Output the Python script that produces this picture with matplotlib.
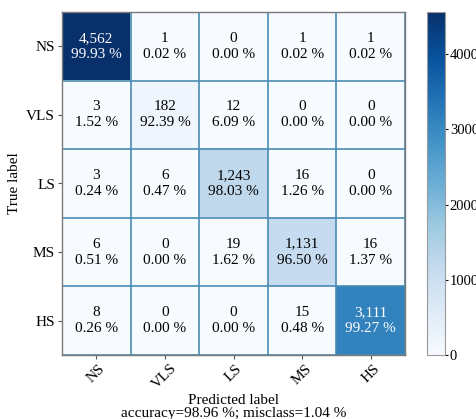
import matplotlib
matplotlib.use("Agg")

import matplotlib.pyplot as plt
import numpy as np

# --- confusion matrix data ---
classes = ["NS", "VLS", "LS", "MS", "HS"]
counts = np.array([
    [4562, 1, 0, 1, 1],
    [3, 182, 12, 0, 0],
    [3, 6, 1243, 16, 0],
    [6, 0, 19, 1131, 16],
    [8, 0, 0, 15, 3111],
])
row_pct = [
    [99.93, 0.02, 0.00, 0.02, 0.02],
    [1.52, 92.39, 6.09, 0.00, 0.00],
    [0.24, 0.47, 98.03, 1.26, 0.00],
    [0.51, 0.00, 1.62, 96.50, 1.37],
    [0.26, 0.00, 0.00, 0.48, 99.27],
]
accuracy = 98.96
misclass = 1.04
cbar_ticks = [0, 1000, 2000, 3000, 4000]

plt.rcParams["font.family"] = ["Liberation Serif", "DejaVu Serif"]

fig = plt.figure(figsize=(4.76, 4.19), dpi=100)
ax = fig.add_axes([62 / 476, 1 - 355 / 419, 343 / 476, 343 / 419])
cax = fig.add_axes([427 / 476, 1 - 355 / 419, 18 / 476, 343 / 419])

im = ax.imshow(counts, cmap="Blues", vmin=0, vmax=counts.max(), aspect="auto")

n = len(classes)
ax.set_xticks(np.arange(n))
ax.set_yticks(np.arange(n))
ax.set_xticklabels(classes, rotation=45, ha="center", va="top", fontsize=11)
ax.set_yticklabels(classes, fontsize=11)
ax.tick_params(length=3, color="#555555", pad=2)

# cell separators
ax.set_xticks(np.arange(-0.5, n, 1), minor=True)
ax.set_yticks(np.arange(-0.5, n, 1), minor=True)
ax.grid(which="minor", color="#4a8cb3", linewidth=1.2)
ax.tick_params(which="minor", length=0)
for s in ax.spines.values():
    s.set_color("#7a7a7a")
    s.set_linewidth(1.0)

thresh = counts.max() / 2
for i in range(n):
    for j in range(n):
        color = "white" if counts[i, j] > thresh else "black"
        ax.text(j, i, f"{counts[i, j]:,}\n{row_pct[i][j]:.2f} %",
                ha="center", va="center", color=color, fontsize=11,
                linespacing=1.3)

ax.set_ylabel("True label", fontsize=11, labelpad=4)
ax.set_xlabel(f"Predicted label\naccuracy={accuracy:.2f} %; misclass={misclass:.2f} %",
              fontsize=11, linespacing=1.0, labelpad=2)

cb = fig.colorbar(im, cax=cax, ticks=cbar_ticks)
cb.ax.tick_params(labelsize=10.5, length=2, pad=1.5)
cb.outline.set_edgecolor("#9a9a9a")

fig.savefig("out.png", dpi=100)
